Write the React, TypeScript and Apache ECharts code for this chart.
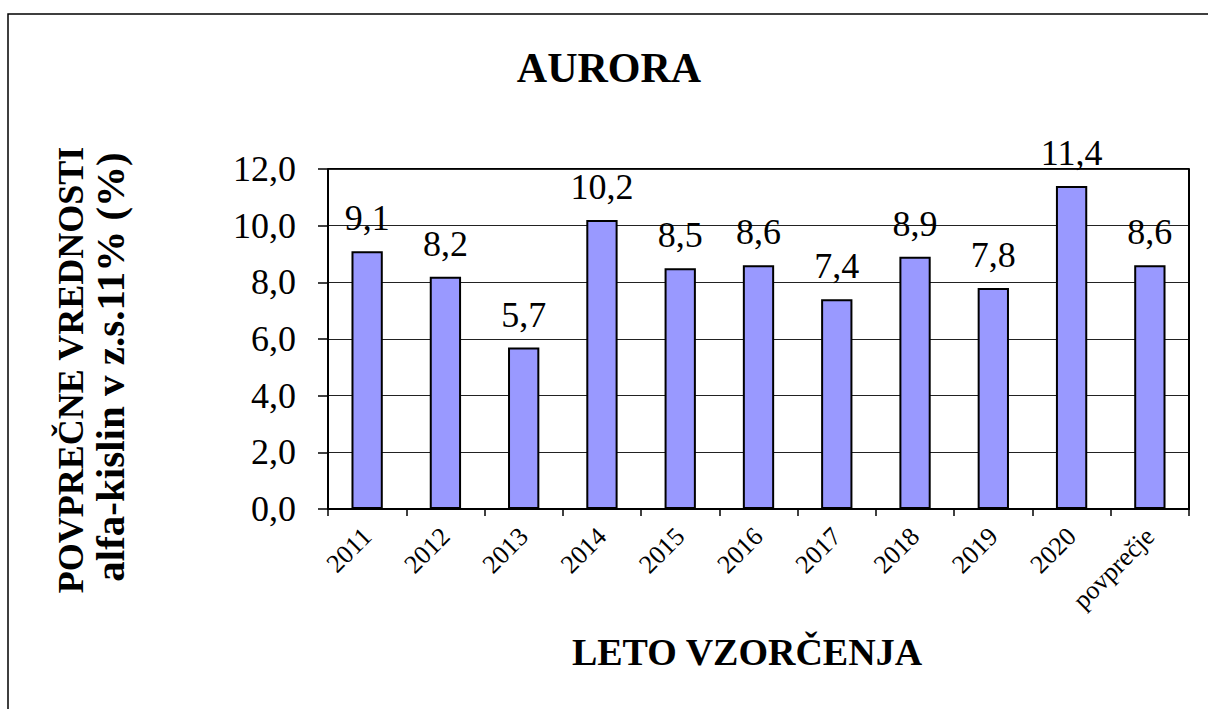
import React, { useEffect, useRef } from "react";
import * as echarts from "echarts";

const categories = ["2011", "2012", "2013", "2014", "2015", "2016", "2017", "2018", "2019", "2020", "povprečje"];
const values = [9.1, 8.2, 5.7, 10.2, 8.5, 8.6, 7.4, 8.9, 7.8, 11.4, 8.6];
const yMin = 0;
const yMax = 12;
const yStep = 2;

const titleText = "AURORA";
const xName = "LETO VZORČENJA";
const yName1 = "POVPREČNE VREDNOSTI";
const yName2 = "alfa-kislin v z.s.11% (%)";

const FONT = "'Liberation Serif', 'Times New Roman', serif";
const fmt = (v: number) => v.toFixed(1).replace(".", ",");

export default function App() {
  const ref = useRef<HTMLDivElement>(null);
  useEffect(() => {
    if (!ref.current) return;
    const chart = echarts.init(ref.current, null, { renderer: "svg" });
    chart.setOption({
      animation: false,
      backgroundColor: "#ffffff",
      textStyle: { fontFamily: FONT },
      grid: { left: 328, top: 169, right: 19, bottom: 200, containLabel: false, show: false },
      xAxis: {
        type: "category",
        data: categories,
        axisLine: { show: true, lineStyle: { color: "#000", width: 2 } },
        axisTick: { show: true, length: 7, lineStyle: { color: "#000", width: 1.5 } },
        axisLabel: { rotate: 45, margin: 23, color: "#000", fontSize: 26, fontFamily: FONT, interval: 0 },
        splitLine: { show: false },
      },
      yAxis: [
        {
          type: "value",
          min: yMin,
          max: yMax,
          interval: yStep,
          axisLine: { show: true, lineStyle: { color: "#000", width: 2 } },
          axisTick: { show: true, length: 10, lineStyle: { color: "#000", width: 1.5 } },
          axisLabel: { margin: 32, color: "#000", fontSize: 36, fontFamily: FONT, formatter: (v: number) => fmt(v) },
          splitLine: { show: true, lineStyle: { color: "#222", width: 1 } },
        },
        {
          type: "value",
          min: yMin,
          max: yMax,
          interval: yStep,
          position: "right",
          axisLine: { show: true, lineStyle: { color: "#000", width: 2 } },
          axisTick: { show: false },
          axisLabel: { show: false },
          splitLine: { show: false },
        },
      ],
      graphic: [
        {
          type: "rect",
          shape: { x: 8, y: 14, width: 1220, height: 720 },
          style: { fill: "none", stroke: "#000", lineWidth: 1.5 },
          silent: true,
        },
        {
          type: "line",
          shape: { x1: 328, y1: 169, x2: 1189, y2: 169 },
          style: { stroke: "#000", lineWidth: 2 },
          silent: true,
        },
        {
          type: "text",
          x: 609,
          y: 68,
          style: { text: titleText, font: `bold 42px ${FONT}`, fill: "#000", align: "center", verticalAlign: "middle" },
        },
        {
          type: "text",
          x: 747,
          y: 652,
          style: { text: xName, font: `bold 38px ${FONT}`, fill: "#000", align: "center", verticalAlign: "middle" },
        },
        {
          type: "text",
          x: 71,
          y: 370,
          rotation: Math.PI / 2,
          style: { text: yName1, font: `bold 36px ${FONT}`, fill: "#000", align: "center", verticalAlign: "middle" },
        },
        {
          type: "text",
          x: 110,
          y: 367,
          rotation: Math.PI / 2,
          style: { text: yName2, font: `bold 41px ${FONT}`, fill: "#000", align: "center", verticalAlign: "middle" },
        },
      ],
      series: [
        {
          type: "bar",
          data: values,
          barWidth: "40%",
          itemStyle: { color: "#9999FF", borderColor: "#000", borderWidth: 2 },
          label: {
            show: true,
            position: "top",
            distance: 15,
            color: "#000",
            fontSize: 36,
            fontFamily: FONT,
            formatter: (p: any) => fmt(p.value),
          },
        },
      ],
    });
    return () => chart.dispose();
  }, []);
  return <div ref={ref} style={{ position: "fixed", left: 0, top: 0, width: 1208, height: 709 }} />;
}
